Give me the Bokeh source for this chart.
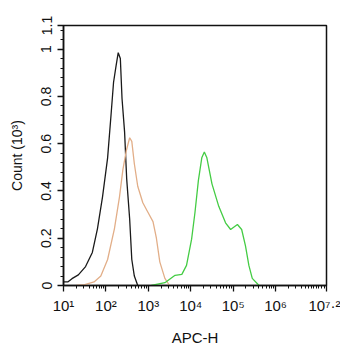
from bokeh.plotting import figure
from bokeh.models import FixedTicker, Range1d
from bokeh.embed import file_html
from bokeh.resources import INLINE

# ---- data (x as log10 of APC-H, y as count in 10^3) ----
black_log = [1.0, 1.1, 1.2, 1.35, 1.52, 1.68, 1.80, 1.92, 2.04, 2.12, 2.18, 2.24, 2.29,
             2.34, 2.38, 2.44, 2.49, 2.56, 2.61, 2.67, 2.75]
black_cnt = [0.015, 0.015, 0.029, 0.045, 0.08, 0.14, 0.24, 0.375, 0.54, 0.72, 0.86, 0.93, 0.985,
             0.96, 0.79, 0.65, 0.45, 0.28, 0.11, 0.04, 0.0]

orange_log = [1.3, 1.5, 1.72, 1.88, 2.04, 2.2, 2.32, 2.4, 2.48, 2.56, 2.61, 2.67, 2.75,
              2.87, 2.99, 3.11, 3.19, 3.27, 3.39, 3.5]
orange_cnt = [0.0, 0.004, 0.015, 0.04, 0.11, 0.24, 0.375, 0.49, 0.57, 0.625, 0.61, 0.515, 0.42,
              0.35, 0.31, 0.27, 0.2, 0.1, 0.03, 0.0]

green_log = [3.07, 3.39, 3.63, 3.79, 3.9, 4.02, 4.1, 4.18, 4.26, 4.32, 4.38, 4.5, 4.66,
             4.82, 4.94, 5.1, 5.2, 5.29, 5.37, 5.45, 5.61]
green_cnt = [0.0, 0.012, 0.043, 0.047, 0.085, 0.196, 0.31, 0.445, 0.54, 0.565, 0.54, 0.43, 0.335,
             0.265, 0.237, 0.258, 0.237, 0.168, 0.085, 0.03, 0.0]

x_exponents = [1, 2, 3, 4, 5, 6, 7.2]
x_tick_labels = ["10¹", "10²", "10³", "10⁴", "10⁵", "10⁶", "10⁷·²"]
y_ticks = [0, 0.2, 0.4, 0.6, 0.8, 1.0, 1.1]
y_tick_labels = ["0", "0.2", "0.4", "0.6", "0.8", "1", "1.1"]
y_minor = [0.04, 0.08, 0.12, 0.16, 0.24, 0.28, 0.32, 0.36, 0.44, 0.48, 0.52, 0.56,
           0.64, 0.68, 0.72, 0.76, 0.84, 0.88, 0.92, 0.96, 1.04, 1.08]
x_minor = [m * 10 ** d for d in range(1, 7) for m in range(2, 10)] + [1e7, 1.2e7, 1.4e7]

FONT = "Liberation Sans"

p = figure(width=340, height=348, x_axis_type="log",
           x_range=Range1d(10, 10 ** 7.2), y_range=Range1d(0, 1.1),
           output_backend="svg", toolbar_location=None,
           min_border_left=63, min_border_right=14, min_border_top=25, min_border_bottom=61)
p.xgrid.visible = False
p.ygrid.visible = False
p.outline_line_color = "#111111"
p.outline_line_width = 1.5
p.background_fill_color = "white"
p.border_fill_color = "white"

p.line([10 ** v for v in black_log], black_cnt, line_color="#1a1a1a", line_width=1.3)
p.line([10 ** v for v in orange_log], orange_cnt, line_color="#e2ae88", line_width=1.3)
p.line([10 ** v for v in green_log], green_cnt, line_color="#44cc44", line_width=1.3)

# axes styling
for ax in (p.xaxis[0], p.yaxis[0]):
    ax.axis_line_color = "#111111"
    ax.axis_line_width = 1.5
    ax.major_tick_line_color = "#111111"
    ax.minor_tick_line_color = "#111111"
    ax.major_tick_line_width = 1.3
    ax.minor_tick_line_width = 1
    ax.major_tick_in = 0
    ax.major_tick_out = 6
    ax.minor_tick_in = 0
    ax.minor_tick_out = 3
    ax.axis_label_text_font = FONT
    ax.axis_label_text_font_style = "normal"
    ax.axis_label_text_color = "#111111"
    ax.major_label_text_font = FONT
    ax.major_label_text_color = "#111111"

xa = p.xaxis[0]
x_major = [10 ** e for e in x_exponents]
xa.ticker = FixedTicker(ticks=x_major, minor_ticks=x_minor)
xa.major_label_overrides = {t: s for t, s in zip(x_major, x_tick_labels)}
xa.major_label_text_font_size = "15px"
xa.major_label_standoff = 5
xa.axis_label = "APC-H"
xa.axis_label_text_font_size = "15px"
xa.axis_label_standoff = 12

ya = p.yaxis[0]
ya.ticker = FixedTicker(ticks=y_ticks, minor_ticks=y_minor)
ya.major_label_overrides = {t: s for t, s in zip(y_ticks, y_tick_labels)}
ya.major_label_orientation = "vertical"
ya.major_label_text_font_size = "14px"
ya.major_label_standoff = 6
ya.axis_label = "Count (10³)"
ya.axis_label_text_font_size = "14px"
ya.axis_label_standoff = 14

open("out.html", "w").write(file_html(p, INLINE))
